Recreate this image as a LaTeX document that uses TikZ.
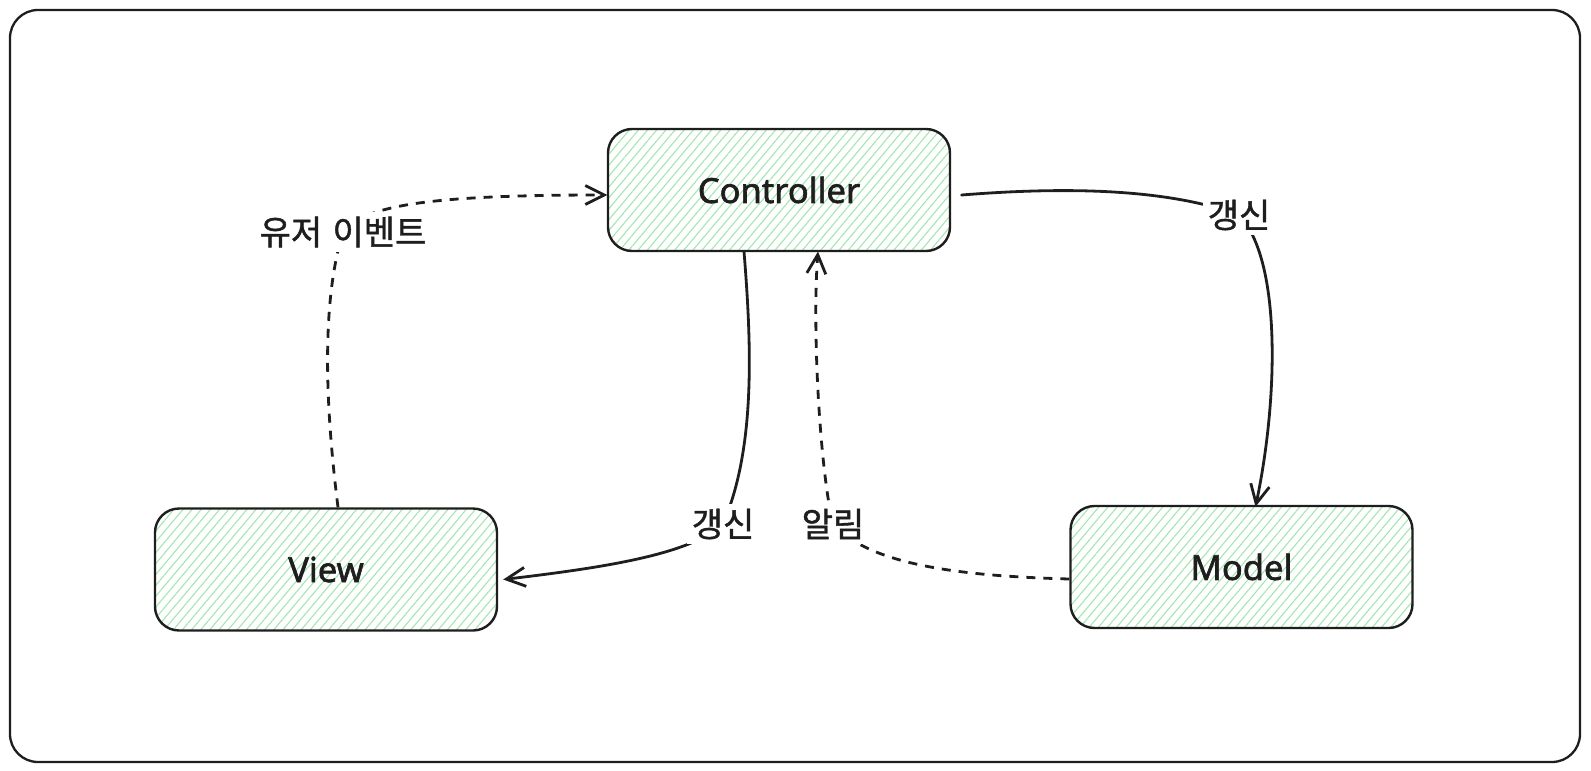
\documentclass[tikz,border=0pt]{standalone}
\usepackage{fontspec}
\setmainfont{Noto Sans}[FakeBold=1.8]
\newfontfamily\kr{Noto Sans CJK KR}[FakeBold=1.2]
\usetikzlibrary{arrows.meta,patterns.meta,backgrounds}
\definecolor{ink}{HTML}{1E1E1E}
\definecolor{hatch}{HTML}{A3E6AE}
\begin{document}
\begin{tikzpicture}[x=1pt,y=-1pt,
  box/.style={draw=ink, line width=2.4pt, rounded corners=24pt,
    minimum width=342pt, minimum height=122pt, text=ink,
    pattern={Lines[angle=50,distance=7pt,line width=1.1pt]}, pattern color=hatch,
    font=\fontsize{34.5}{40}\selectfont},
  lab/.style={fill=white, inner sep=5pt, text=ink, font=\kr\fontsize{34}{40}\selectfont},
  conn/.style={draw=ink, line width=2.8pt, -{Straight Barb[length=19pt,width=19pt]}},
  solidconn/.style={conn, line cap=round},
  dashconn/.style={conn, dash pattern=on 9pt off 8pt}
]
\useasboundingbox (0,0) rectangle (1591,771);
\draw[ink, line width=2.3pt, rounded corners=28pt] (10,10) rectangle (1580,762);

\node[box] (ctrl) at (779,190) {Controller};
\node[box] (view) at (326,569.5) {View};
\node[box] (model) at (1241.5,567) {Model};

\node[lab] (ev) at (343,232) {유저\hspace{0.3em}이벤트};
\node[lab] (up) at (1239,215) {갱신};
\node[lab] (dn) at (723,524) {갱신};
\node[lab] (nt) at (833,524) {알림};

\begin{scope}[on background layer]
\draw[dashconn] ([xshift=12pt]view.north) .. controls (322,380) and (325,290) .. (ev.center)
  .. controls (365,205) and (430,195) .. ([yshift=-5pt]ctrl.west);
\draw[solidconn] ([xshift=11pt,yshift=-5pt]ctrl.east) .. controls (1050,188) and (1160,186) .. (up.center)
  .. controls (1282,260) and (1278,400) .. ([xshift=14pt,yshift=-2pt]model.north);
\draw[solidconn] ([xshift=-35pt]ctrl.south) .. controls (752,350) and (755,450) .. (dn.center)
  .. controls (690,555) and (600,568) .. ([xshift=5pt,yshift=-10pt]view.east);
\draw[dashconn] ([yshift=-12pt]model.west) .. controls (960,576) and (870,565) .. (nt.center)
  .. controls (820,470) and (812,330) .. ([xshift=39pt]ctrl.south);
\end{scope}
\end{tikzpicture}
\end{document}
